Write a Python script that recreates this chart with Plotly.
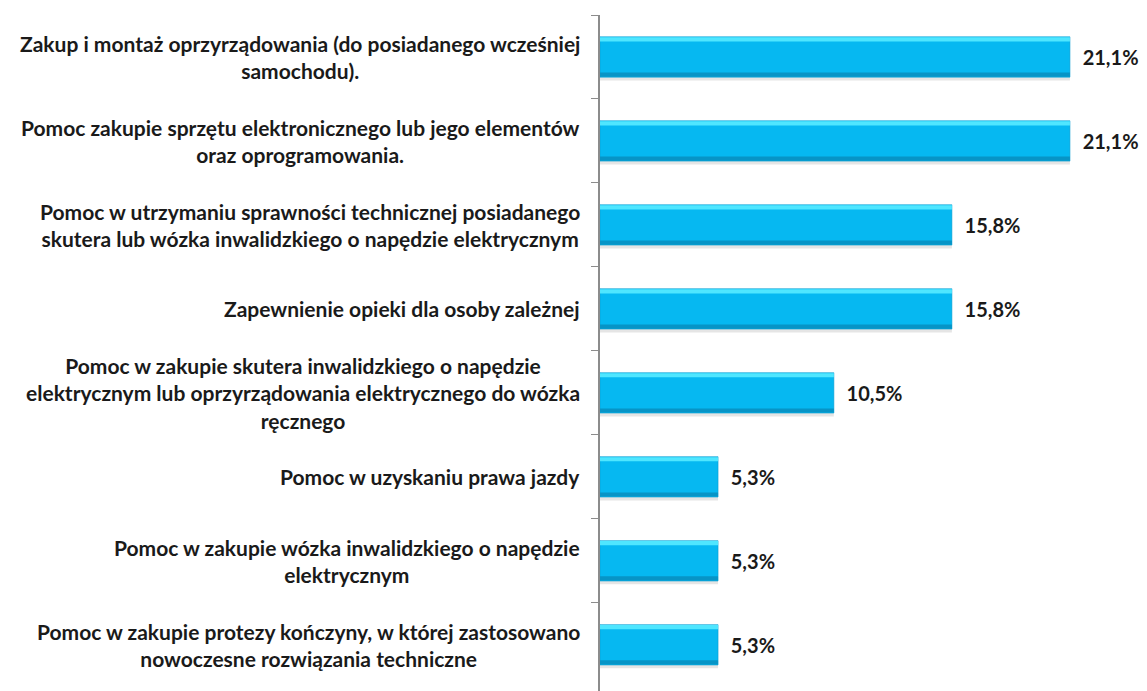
import plotly.graph_objects as go

# categories (top to bottom) and shares in %
categories = [
    'Zakup i montaż oprzyrządowania (do posiadanego wcześniej<br>samochodu).',
    'Pomoc zakupie sprzętu elektronicznego lub jego elementów<br>oraz oprogramowania.',
    'Pomoc w utrzymaniu sprawności technicznej posiadanego<br>skutera lub wózka inwalidzkiego o napędzie elektrycznym',
    'Zapewnienie opieki dla osoby zależnej',
    'Pomoc w zakupie skutera inwalidzkiego o napędzie<br>elektrycznym lub oprzyrządowania elektrycznego do wózka<br>ręcznego',
    'Pomoc w uzyskaniu prawa jazdy',
    'Pomoc w zakupie wózka inwalidzkiego o napędzie<br>elektrycznym',
    'Pomoc w zakupie protezy kończyny, w której zastosowano<br>nowoczesne rozwiązania techniczne',
]
values = [21.1, 21.1, 15.8, 15.8, 10.5, 5.3, 5.3, 5.3]

FONT = 'Lato, Open Sans, sans-serif'

fig = go.Figure()

# soft shadow under each bar
fig.add_trace(go.Bar(
    x=values, y=categories, orientation='h',
    width=0.5, offset=-0.22,
    marker=dict(color='rgba(0,0,0,0.10)', line_width=0),
    hoverinfo='skip', showlegend=False,
))

# main bar
fig.add_trace(go.Bar(
    x=values, y=categories, orientation='h',
    width=0.48, offset=-0.24,
    marker=dict(color='#06B8F1', line=dict(color='#0A9FD2', width=0.6)),
    texttemplate='<b>\u00a0\u00a0%{x:.1f}%</b>', textposition='outside',
    textfont=dict(family=FONT, size=20, color='#1a1a1a'),
    constraintext='none', cliponaxis=False,
    showlegend=False,
))

# top highlight strip
fig.add_trace(go.Bar(
    x=values, y=categories, orientation='h',
    width=0.05, offset=-0.235,
    marker=dict(color='#4FE6FF', line_width=0),
    hoverinfo='skip', showlegend=False,
))

# bottom darker strip
fig.add_trace(go.Bar(
    x=values, y=categories, orientation='h',
    width=0.05, offset=0.185,
    marker=dict(color='#0794C6', line_width=0),
    hoverinfo='skip', showlegend=False,
))

# centred multi-line category labels
for cat in categories:
    fig.add_annotation(
        x=0, y=cat, xref='x', yref='y',
        text='<b>' + cat + '</b>',
        xanchor='right', yanchor='middle', align='center',
        xshift=-18, showarrow=False,
        font=dict(family=FONT, size=21, color='#1a1a1a'),
    )

# page body has an 8px margin, so the figure is 8px smaller than the window
fig.update_layout(
    width=1139, height=683,
    barmode='overlay',
    separators=', ',
    margin=dict(l=592, r=0, t=7, b=0),
    paper_bgcolor='white',
    plot_bgcolor='white',
    font=dict(family=FONT, size=18, color='#1a1a1a'),
)
fig.update_xaxes(range=[0, 24.56], visible=False)
fig.update_yaxes(
    autorange=False, range=[7.55, -0.5],
    showticklabels=False,
    showline=True, linecolor='#8c8c8c', linewidth=2,
    ticks='outside', tickson='boundaries', ticklen=7, tickcolor='#8c8c8c',
    showgrid=False, zeroline=False,
)

fig.write_html("out.html")
